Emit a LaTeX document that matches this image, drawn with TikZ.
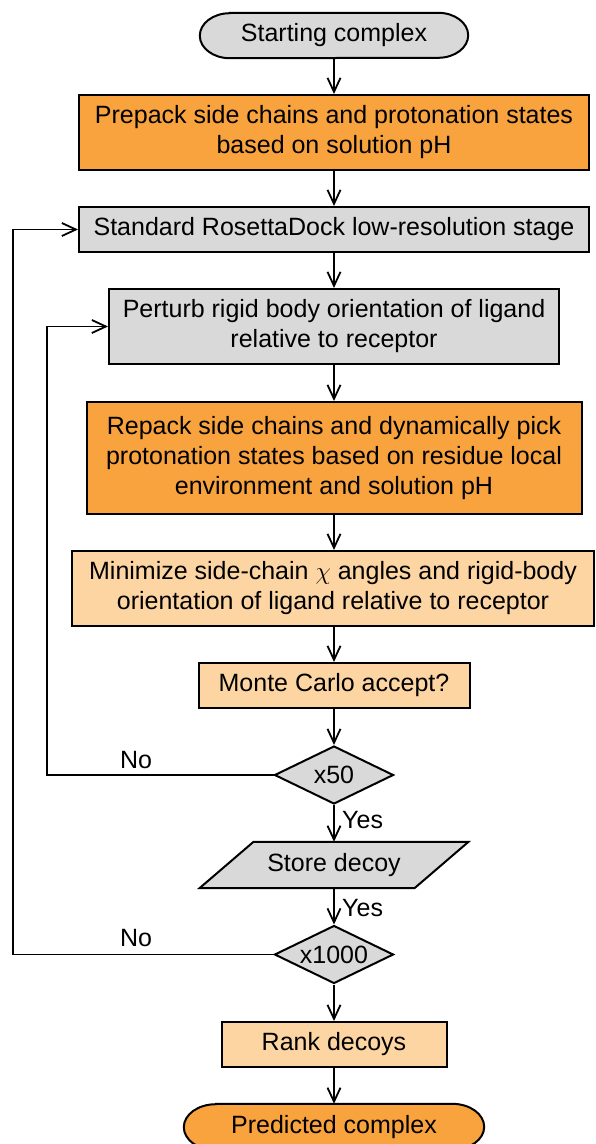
\documentclass[tikz,border=0pt]{standalone}
\usepackage{fontspec}
\setmainfont{Liberation Sans}
\usetikzlibrary{arrows.meta,shapes.geometric}
\definecolor{dorange}{RGB}{248,163,62}
\definecolor{lorange}{RGB}{253,213,162}
\definecolor{gfill}{RGB}{217,217,217}
\pgfdeclarelayer{bg}
\pgfsetlayers{bg,main}
\begin{document}
\begin{tikzpicture}[x=1pt,y=1pt,
  every node/.style={font=\fontsize{25}{30}\selectfont},
  box/.style={draw=black, line width=2pt, rectangle, align=center, inner sep=0pt},
  gbox/.style={box, fill=gfill},
  dbox/.style={box, fill=dorange},
  lbox/.style={box, fill=lorange},
  plain/.style={rectangle, inner sep=0pt, align=center},
  shapeline/.style={draw=black, line width=2pt},
  dec/.style={diamond, aspect=2, draw=black, line width=2pt, fill=gfill, inner sep=0pt, minimum width=119pt, minimum height=58pt},
  conn/.style={line width=1.8pt, -{Straight Barb[length=14pt,width=13pt]}},
  lab/.style={inner sep=0pt}
]
\useasboundingbox (0,0) rectangle (595,-1144);

% nodes
\node[plain, minimum width=208pt, minimum height=45pt] (start) at (334,-35.5) {Starting complex};
\node[dbox, minimum width=510pt, minimum height=75pt] (prepack) at (334,-132.5)
  {Prepack side chains and protonation states\\based on solution pH};
\node[gbox, minimum width=510pt, minimum height=45pt] (standard) at (334,-229.5)
  {Standard RosettaDock low-resolution stage};
\node[gbox, minimum width=450pt, minimum height=75pt] (perturb) at (334,-326.5)
  {Perturb rigid body orientation of ligand\\relative to receptor};
\node[dbox, minimum width=495pt, minimum height=112pt] (repack) at (334,-458)
  {Repack side chains and dynamically pick\\protonation states based on residue local\\environment and solution pH};
\node[lbox, minimum width=522pt, minimum height=75pt] (minimize) at (333,-588.5)
  {Minimize side-chain $\chi$ angles and rigid-body\\orientation of ligand relative to receptor};
\node[lbox, minimum width=271pt, minimum height=45pt] (monte) at (334,-685.5)
  {Monte Carlo accept?};
\node[dec] (x50) at (334,-775) {x50};
\node[plain, minimum width=150pt, minimum height=46pt] (store) at (334,-865) {Store decoy};
\node[dec] (x1000) at (334,-954.5) {x1000};
\node[lbox, minimum width=225pt, minimum height=45pt] (rank) at (334,-1044.5) {Rank decoys};
\node[plain, minimum width=236pt, minimum height=46pt] (pred) at (334,-1127) {Predicted complex};

% custom outlines
\begin{pgfonlayer}{bg}
\path[shapeline, fill=gfill] (start.north west) -- (start.north east)
  arc[start angle=90, end angle=-90, x radius=30, y radius=22.5]
  -- (start.south west)
  arc[start angle=270, end angle=90, x radius=30, y radius=22.5] -- cycle;
\path[shapeline, fill=gfill] ([xshift=-80.5pt]store.north) -- ([xshift=134.5pt]store.north)
  -- ([xshift=80.5pt]store.south) -- ([xshift=-134.5pt]store.south) -- cycle;
\path[shapeline, fill=dorange] (pred.north west) -- (pred.north east)
  arc[start angle=90, end angle=-90, x radius=32, y radius=23]
  -- (pred.south west)
  arc[start angle=270, end angle=90, x radius=32, y radius=23] -- cycle;
\end{pgfonlayer}

% labels
\node[lab, anchor=west] (yes1) at (342,-820) {Yes};
\node[lab, anchor=west] (yes2) at (342,-908) {Yes};
\node[lab] (no1) at (136,-760) {No};
\node[lab] (no2) at (136,-938) {No};

% main flow
\draw[conn] (start.south) -- (prepack.north);
\draw[conn] (prepack.south) -- (standard.north);
\draw[conn] (standard.south) -- (perturb.north);
\draw[conn] (perturb.south) -- (repack.north);
\draw[conn] (repack.south) -- (repack.south |- minimize.north);
\draw[conn] (minimize.south -| monte.north) -- (monte.north);
\draw[conn] (monte.south) -- (x50.north);
\draw[conn] (x50.south) -- (store.north);
\draw[conn] (store.south) -- (x1000.north);
\draw[conn] (x1000.south) -- (rank.north);
\draw[conn] (rank.south) -- (pred.north);

% loops
\coordinate (c1) at (47,0);
\coordinate (c2) at (13,0);
\draw[conn] (x50.west) -- (x50.west -| c1) |- (perturb.west);
\draw[conn] (x1000.west) -- (x1000.west -| c2) |- (standard.west);
\end{tikzpicture}
\end{document}
